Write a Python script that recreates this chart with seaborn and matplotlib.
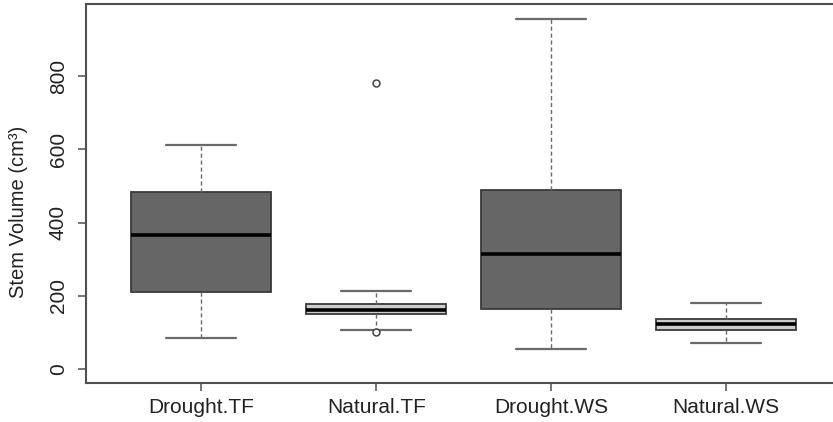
import matplotlib
matplotlib.use("Agg")
import matplotlib.pyplot as plt
import seaborn as sns
import pandas as pd

# Stem volume per treatment (cm^3)
categories = ["Drought.TF", "Natural.TF", "Drought.WS", "Natural.WS"]
drought_tf = [84, 211, 365, 484, 612]
natural_tf = [101, 107, 149, 155, 162, 170, 178, 212, 783]
drought_ws = [53, 163, 315, 488, 958]
natural_ws = [71, 105, 122, 136, 179]
y_ticks = [0, 200, 400, 600, 800]
fills = ["#666666", "#cdcdcd", "#666666", "#cdcdcd"]

records = []
for name, vals in zip(categories, [drought_tf, natural_tf, drought_ws, natural_ws]):
    for v in vals:
        records.append({"group": name, "volume": v})
df = pd.DataFrame(records)

sns.set_theme(style="ticks")
plt.rcParams["font.family"] = ["Liberation Sans", "DejaVu Sans"]

fig = plt.figure(figsize=(8.33, 4.22), dpi=100)
ax = fig.add_axes([0.1032, 0.0931, 0.907, 0.8967])

sns.boxplot(
    data=df, x="group", y="volume", hue="group", order=categories,
    hue_order=categories, palette=dict(zip(categories, fills)),
    legend=False, width=0.8, whis=1.5, linecolor="#3a3a3a", linewidth=1.3,
    ax=ax,
    medianprops=dict(color="black", linewidth=2.6),
    whiskerprops=dict(color="#6a6a6a", linestyle=(0, (3, 2)), linewidth=1.0),
    capprops=dict(color="#6a6a6a", linewidth=1.6),
    flierprops=dict(marker="o", markersize=5, markerfacecolor="white",
                    markeredgecolor="#444444", markeredgewidth=1.1),
    capwidths=0.4,
)

ax.set_xlim(-0.66, 3.66)
ax.set_ylim(-38, 997)
ax.set_yticks(y_ticks)
ax.set_yticklabels([str(t) for t in y_ticks], rotation=90, va="center")
ax.set_xlabel("")
ax.set_ylabel("Stem Volume (cm³)", fontsize=14.5, color="#222222")
ax.yaxis.set_label_coords(-0.077, 0.451)

for side in ["left", "bottom", "top", "right"]:
    ax.spines[side].set_visible(True)
    ax.spines[side].set_color("#505050")
    ax.spines[side].set_linewidth(1.5)

ax.tick_params(axis="both", length=6, width=1.1, color="#505050",
               labelsize=15, labelcolor="#222222")
ax.tick_params(axis="y", pad=7)
ax.tick_params(axis="x", pad=5)

fig.savefig("out.png", dpi=100)
